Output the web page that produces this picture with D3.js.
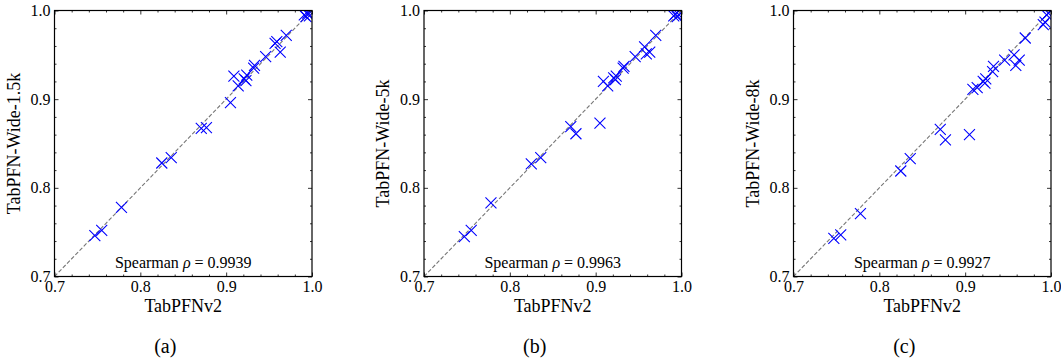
<!DOCTYPE html>
<html>
<head>
<meta charset="utf-8">
<script src="https://cdn.jsdelivr.net/npm/d3@7"></script>
<style>
body { margin: 0; background: #fff; }
text { font-family: "Liberation Serif", "DejaVu Serif", serif; fill: #000; }
</style>
</head>
<body>
<div id="chart"></div>
<script>
// TabPFNv2 score per dataset (shared x values)
var tabpfnV2 = [0.747, 0.755, 0.778, 0.825, 0.836, 0.871, 0.877, 0.905, 0.909, 0.914, 0.921, 0.923,
                0.924, 0.932, 0.933, 0.946, 0.957, 0.959, 0.963, 0.970, 0.991, 0.993, 0.995, 0.997];
var wide1_5k = [0.746, 0.752, 0.778, 0.828, 0.834, 0.867, 0.868, 0.896, 0.926, 0.915, 0.923, 0.921,
                0.927, 0.935, 0.938, 0.948, 0.963, 0.965, 0.953, 0.972, 0.995, 0.993, 0.997, 0.994];
var wide5k   = [0.745, 0.752, 0.783, 0.827, 0.834, 0.869, 0.861, 0.873, 0.920, 0.915, 0.924, 0.922,
                0.926, 0.935, 0.937, 0.948, 0.959, 0.951, 0.953, 0.972, 0.994, 0.996, 0.993, 0.995];
var wide8k   = [0.743, 0.747, 0.771, 0.819, 0.833, 0.866, 0.854, 0.860, 0.911, 0.913, 0.920, 0.918,
                0.923, 0.931, 0.937, 0.944, 0.950, 0.938, 0.944, 0.969, 0.984, 0.987, 0.995, 0.997];

var yLabels = ["TabPFN-Wide-1.5k", "TabPFN-Wide-5k", "TabPFN-Wide-8k"];
var rhoValues = ["0.9939", "0.9963", "0.9927"];
var captions = ["(a)", "(b)", "(c)"];
var xLabel = "TabPFNv2";
var majorTicks = [0.7, 0.8, 0.9, 1.0];
var minorTicks = [0.72, 0.74, 0.76, 0.78, 0.82, 0.84, 0.86, 0.88, 0.92, 0.94, 0.96, 0.98];
var domain = [0.7, 1.0];

var series = [wide1_5k, wide5k, wide8k];

var W = 1061, H = 360;
var panelLeft = [54.5, 424, 793.5],
    plotTop = 10.5,
    plotW = 257.5,
    plotH = 266;
var serif = "'Liberation Serif', 'DejaVu Serif', serif";

var svg = d3.select("#chart").append("svg")
    .attr("width", W)
    .attr("height", H);

var x = d3.scaleLinear().domain(domain).range([0, plotW]);
var y = d3.scaleLinear().domain(domain).range([plotH, 0]);
var fmt = d3.format(".1f");

series.forEach(function(vals, i) {
  var g = svg.append("g")
      .attr("transform", "translate(" + panelLeft[i] + "," + plotTop + ")");

  g.append("clipPath").attr("id", "clip" + i)
    .append("rect").attr("width", plotW).attr("height", plotH);

  // dashed identity line
  g.append("line")
      .attr("x1", x(domain[0])).attr("y1", y(domain[0]))
      .attr("x2", x(domain[1])).attr("y2", y(domain[1]))
      .attr("stroke", "#777")
      .attr("stroke-width", 1.1)
      .attr("stroke-dasharray", "4,2");

  // markers
  var pts = tabpfnV2.map(function(d, j) { return {x: d, y: vals[j]}; });
  g.append("g").attr("clip-path", "url(#clip" + i + ")")
    .selectAll("path.pt")
      .data(pts)
    .enter().append("path")
      .attr("class", "pt")
      .attr("transform", function(d) { return "translate(" + x(d.x) + "," + y(d.y) + ")"; })
      .attr("d", "M-5.5,-5.5L5.5,5.5M-5.5,5.5L5.5,-5.5")
      .attr("fill", "none")
      .attr("stroke", "#0000ff")
      .attr("stroke-width", 1.1);

  // axes: inward ticks on all four sides
  function style(sel) {
    sel.select(".domain").remove();
    sel.selectAll(".tick line").attr("stroke", "#000").attr("stroke-width", 0.8);
    sel.selectAll("text").attr("font-size", 16).attr("font-family", serif);
  }
  g.append("g").attr("transform", "translate(0," + plotH + ")")
      .call(d3.axisBottom(x).tickValues(majorTicks).tickFormat(fmt).tickSize(-4).tickPadding(4))
      .call(style);
  g.append("g").attr("transform", "translate(0," + plotH + ")")
      .call(d3.axisBottom(x).tickValues(minorTicks).tickFormat("").tickSize(-2))
      .call(style);
  g.append("g")
      .call(d3.axisTop(x).tickValues(majorTicks).tickFormat("").tickSize(-4))
      .call(style);
  g.append("g")
      .call(d3.axisTop(x).tickValues(minorTicks).tickFormat("").tickSize(-2))
      .call(style);
  g.append("g")
      .call(d3.axisLeft(y).tickValues(majorTicks).tickFormat(fmt).tickSize(-4).tickPadding(4))
      .call(style);
  g.append("g")
      .call(d3.axisLeft(y).tickValues(minorTicks).tickFormat("").tickSize(-2))
      .call(style);
  g.append("g").attr("transform", "translate(" + plotW + ",0)")
      .call(d3.axisRight(y).tickValues(majorTicks).tickFormat("").tickSize(-4))
      .call(style);
  g.append("g").attr("transform", "translate(" + plotW + ",0)")
      .call(d3.axisRight(y).tickValues(minorTicks).tickFormat("").tickSize(-2))
      .call(style);

  // frame
  g.append("rect")
      .attr("width", plotW).attr("height", plotH)
      .attr("fill", "none")
      .attr("stroke", "#000")
      .attr("stroke-width", 1.2);

  // Spearman annotation
  var t = g.append("text")
      .attr("x", plotW / 2)
      .attr("y", plotH - 9)
      .attr("text-anchor", "middle")
      .attr("font-family", serif)
      .attr("font-size", 16);
  t.append("tspan").text("Spearman ");
  t.append("tspan").attr("font-style", "italic").text("\u03C1");
  t.append("tspan").text(" = " + rhoValues[i]);

  // axis titles
  g.append("text")
      .attr("x", plotW / 2)
      .attr("y", plotH + 35)
      .attr("text-anchor", "middle")
      .attr("font-family", serif)
      .attr("font-size", 18)
      .text(xLabel);

  g.append("text")
      .attr("transform", "translate(-35," + (plotH / 2) + ") rotate(-90)")
      .attr("text-anchor", "middle")
      .attr("font-family", serif)
      .attr("font-size", 18)
      .text(yLabels[i]);

  // panel caption
  g.append("text")
      .attr("x", plotW / 2 - 18)
      .attr("y", plotH + 76)
      .attr("text-anchor", "middle")
      .attr("font-family", serif)
      .attr("font-size", 20)
      .text(captions[i]);
});
</script>
</body>
</html>
